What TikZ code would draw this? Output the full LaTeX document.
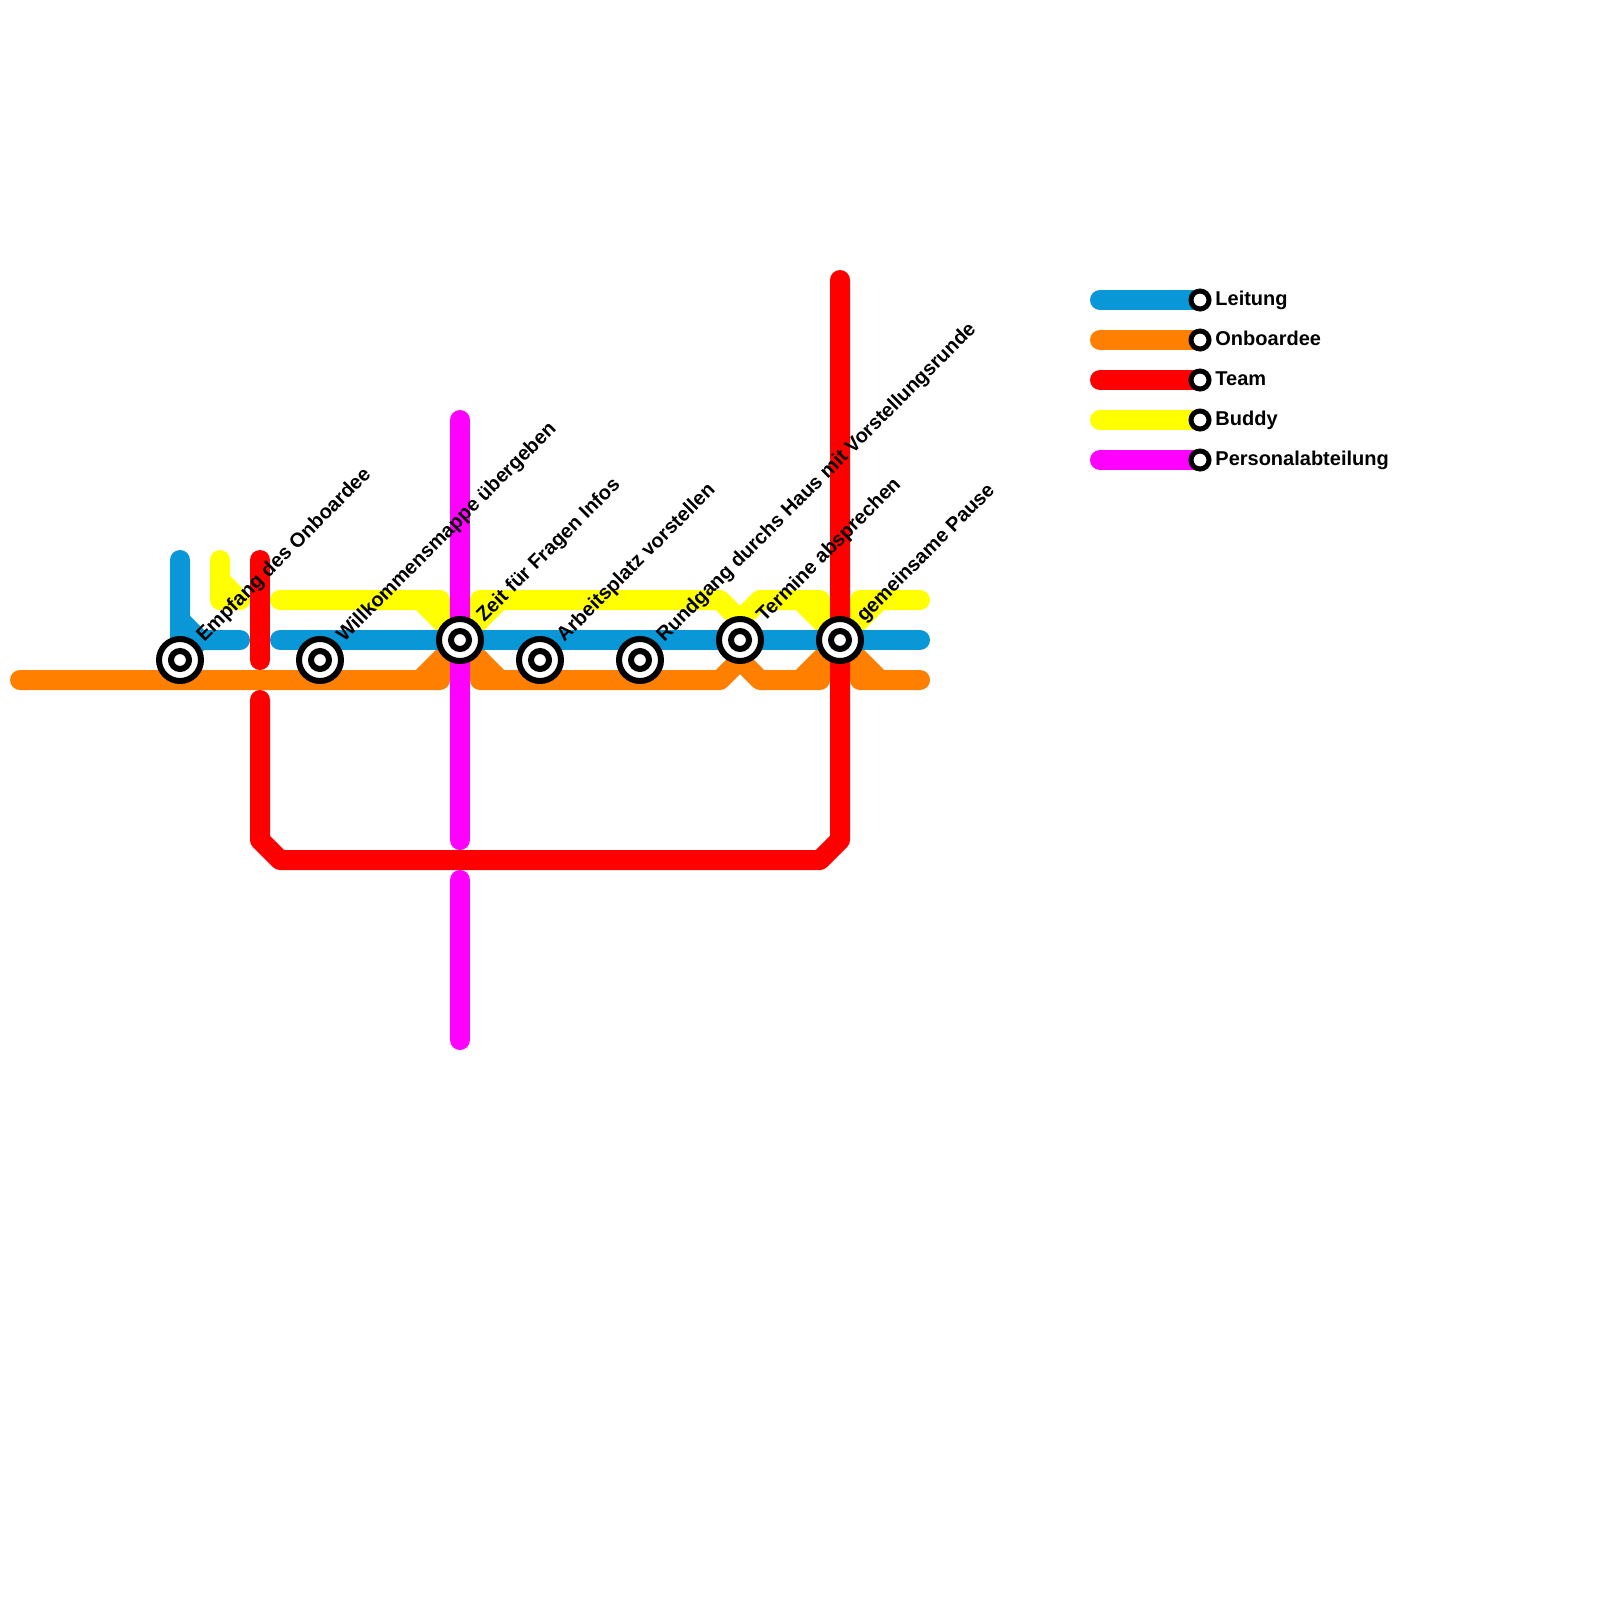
\documentclass[tikz,border=0pt]{standalone}
\usepackage{fontspec}
\setmainfont{Liberation Sans}
\definecolor{leitung}{HTML}{0A97D8}
\definecolor{onboardee}{HTML}{FF8000}
\definecolor{team}{HTML}{FF0000}
\definecolor{buddy}{HTML}{FFFF00}
\definecolor{personal}{HTML}{FF00FF}
\tikzset{
  tube/.style={line width=10pt,line cap=round,line join=round},
  station/.style={draw=black,fill=white,circle,line width=3pt,inner sep=0pt,minimum size=21pt},
  stationcore/.style={draw=black,fill=white,circle,line width=3pt,inner sep=0pt,minimum size=9pt},
  legendstation/.style={draw=black,fill=white,circle,line width=2.5pt,inner sep=0pt,minimum size=9pt},
  stationtext/.style={font=\bfseries,rotate=45,anchor=base west,inner sep=0pt},
  legendtext/.style={font=\bfseries,anchor=base west,inner sep=0pt}
}
\begin{document}
\begin{tikzpicture}[x=.5pt,y=-.5pt]
\useasboundingbox (0,0) rectangle (1600,1600);
% Onboardee
\draw[tube,onboardee] (20,680) -- (440,680) -- (440,660) -- (460,640) -- (420,680);
\draw[tube,onboardee] (460,640) -- (480,660) -- (480,680) -- (720,680) -- (740,660) -- (760,680) -- (820,680) -- (820,660) -- (840,640) -- (800,680);
\draw[tube,onboardee] (460,640) -- (500,680);
\draw[tube,onboardee] (740,660) -- (740,640);
\draw[tube,onboardee] (840,640) -- (860,660) -- (860,680) -- (920,680) (840,640) -- (880,680);
% Buddy
\draw[tube,buddy] (220,560) -- (220,600) -- (240,600) -- (220,580);
\draw[tube,buddy] (280,600) -- (440,600) -- (440,620) -- (460,640) -- (420,600);
\draw[tube,buddy] (460,640) -- (480,620) -- (480,600) -- (720,600) -- (740,620) -- (760,600) -- (820,600) -- (820,620) -- (840,640) -- (800,600);
\draw[tube,buddy] (460,640) -- (500,600);
\draw[tube,buddy] (740,620) -- (740,640);
\draw[tube,buddy] (840,640) -- (860,620) -- (860,600) -- (920,600) (840,640) -- (880,600);
% Leitung
\draw[tube,leitung] (180,560) -- (180,620) -- (200,640) -- (240,640) (180,620) -- (180,660) -- (200,640);
\draw[tube,leitung] (280,640) -- (920,640);
% Team
\draw[tube,team] (260,560) -- (260,660);
\draw[tube,team] (260,700) -- (260,840) -- (280,860) -- (820,860) -- (840,840) -- (840,280);
% Personalabteilung
\draw[tube,personal] (460,420) -- (460,840);
\draw[tube,personal] (460,880) -- (460,1040);
% stations
\foreach \name/\x/\y/\txt in {
  empfang/180/660/Empfang des Onboardee,
  mappe/320/660/Willkommensmappe übergeben,
  fragen/460/640/Zeit für Fragen Infos,
  platz/540/660/Arbeitsplatz vorstellen,
  rundgang/640/660/Rundgang durchs Haus mit Vorstellungsrunde,
  termine/740/640/Termine absprechen,
  pause/840/640/gemeinsame Pause}{
  \node[station] (\name) at (\x,\y) {};
  \node[stationcore] (\name core) at (\name) {};
  \node[stationtext] (\name text) at ([shift={(24,-17)}]\name.center) {\txt};
}
% legend
\foreach \name/\y/\col/\txt in {
  leitung/300/leitung/Leitung,
  onboardee/340/onboardee/Onboardee,
  team/380/team/Team,
  buddy/420/buddy/Buddy,
  personal/460/personal/Personalabteilung}{
  \coordinate (\name start) at (1100,\y);
  \coordinate (\name end) at (1200,\y);
  \draw[tube,\col] (\name start) -- (\name end);
  \node[legendstation] (\name) at (\name end) {};
  \node[legendtext] (\name text) at ([shift={(15,5)}]\name.center) {\txt};
}
\end{tikzpicture}
\end{document}
